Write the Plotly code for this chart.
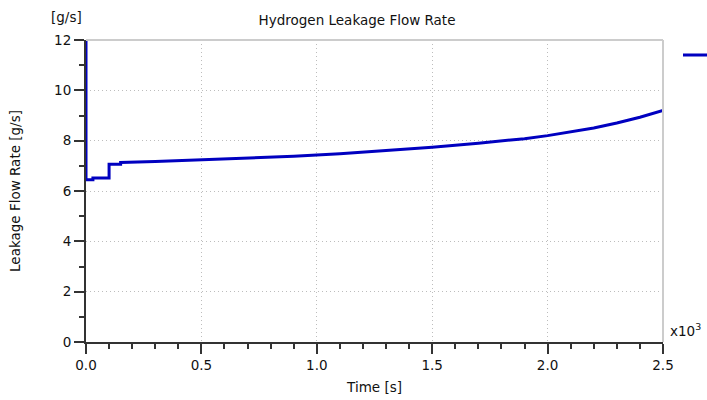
import plotly.graph_objects as go

# Time in units of 10^3 s, flow rate in g/s
time_k = [0.0, 0.0, 0.03, 0.03, 0.1, 0.1, 0.15, 0.15, 0.3, 0.5, 0.7, 0.9, 1.1, 1.3, 1.5,
          1.7, 1.9, 2.0, 2.1, 2.2, 2.3, 2.4, 2.5]
flow = [14.0, 6.45, 6.45, 6.52, 6.52, 7.06, 7.06, 7.13, 7.17, 7.23, 7.3, 7.38, 7.48, 7.6, 7.74,
        7.9, 8.08, 8.2, 8.34, 8.5, 8.7, 8.93, 9.2]

title = "Hydrogen Leakage Flow Rate"
x_title = "Time [s]"
y_title = "Leakage Flow Rate [g/s]"
unit_label = "[g/s]"
x_ticks = [0.0, 0.5, 1.0, 1.5, 2.0, 2.5]
y_ticks = [0, 2, 4, 6, 8, 10, 12]

font = "DejaVu Sans"
fsize = 13.5
blue = "#0000C0"
text_col = "#111111"

fig = go.Figure()
fig.add_trace(go.Scatter(x=time_k, y=flow, mode="lines", line=dict(color=blue, width=3),
                         showlegend=False, cliponaxis=True))

axis_common = dict(showline=True, linecolor="#333333", linewidth=2, ticks="outside",
                   tickcolor="#333333", ticklen=10, tickwidth=1.5,
                   showgrid=True, gridcolor="#bdbdbd", griddash="1px,3px", gridwidth=1,
                   zeroline=False, tickfont=dict(family=font, size=fsize, color=text_col),
                   mirror=False, automargin=False)

fig.update_xaxes(range=[0, 2.5], tickvals=x_ticks, ticktext=[f"{v:.1f}" for v in x_ticks],
                 minor=dict(dtick=0.1, ticks="outside", ticklen=5, tickcolor="#333333", showgrid=False),
                 title=dict(text=x_title, font=dict(family=font, size=fsize, color=text_col), standoff=10),
                 **axis_common)
fig.update_yaxes(range=[0, 12], tickvals=y_ticks,
                 minor=dict(dtick=1, ticks="outside", ticklen=5, tickcolor="#333333", showgrid=False),
                 title=dict(text=y_title, font=dict(family=font, size=fsize, color=text_col), standoff=30),
                 **axis_common)

fig.update_layout(
    width=707, height=400,
    margin=dict(l=86, r=44, t=40, b=58),
    paper_bgcolor="white", plot_bgcolor="white",
    title=dict(text=title, x=0.505, xanchor="center", y=0.95, yanchor="middle",
               font=dict(family=font, size=fsize, color=text_col)),
    shapes=[
        # top & right frame (light gray)
        dict(type="line", xref="paper", yref="paper", x0=0, x1=1, y0=1, y1=1,
             line=dict(color="#cccccc", width=2)),
        dict(type="line", xref="paper", yref="paper", x0=1, x1=1, y0=0, y1=1,
             line=dict(color="#cccccc", width=2)),
        # legend glyph
        dict(type="line", xref="paper", yref="paper", x0=(683 - 86) / 577, x1=(720 - 86) / 577,
             y0=(342 - 55) / 302, y1=(342 - 55) / 302, line=dict(color=blue, width=3)),
    ],
    annotations=[
        dict(text=unit_label, xref="paper", yref="paper", x=(66 - 86) / 577, y=(342 - 17) / 302,
             xanchor="center", yanchor="middle", showarrow=False,
             font=dict(family=font, size=fsize, color=text_col)),
        dict(text="x10<sup>3</sup>", xref="paper", yref="paper", x=(668 - 86) / 577, y=(342 - 330) / 302,
             xanchor="left", yanchor="middle", showarrow=False,
             font=dict(family=font, size=fsize, color=text_col)),
    ],
)

fig.write_html("out.html")
